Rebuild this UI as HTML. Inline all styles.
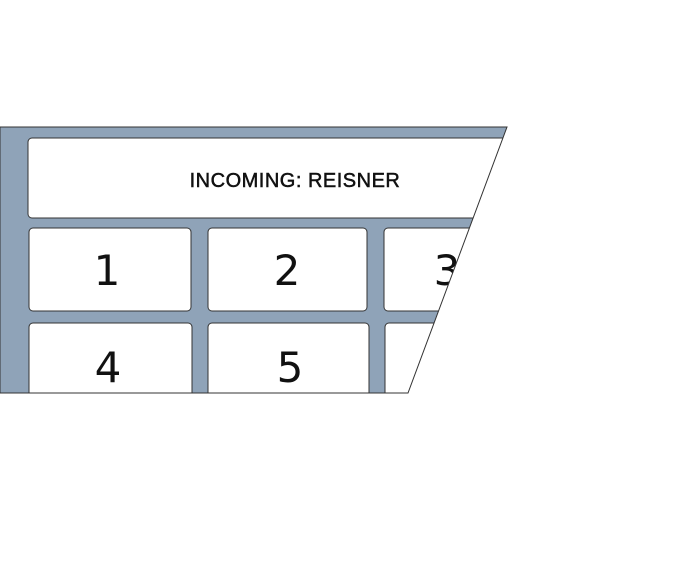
<!DOCTYPE html>
<html><head><style>html,body{margin:0;padding:0;background:#fff;width:700px;height:583px;overflow:hidden}</style></head>
<body>
<svg width="700" height="583" xmlns="http://www.w3.org/2000/svg">
<defs><clipPath id="c"><polygon points="0,127 507,127 408,393 0,393"/></clipPath></defs>
<g clip-path="url(#c)">
<rect x="0" y="127" width="520" height="266" fill="#8fa3b8"/>
<g fill="#fff" stroke="#333" stroke-width="1">
<rect x="28" y="138" width="520" height="80" rx="4"/>
<rect x="29" y="228" width="162" height="83" rx="4"/>
<rect x="208" y="228" width="159" height="83" rx="4"/>
<rect x="384" y="228" width="140" height="83" rx="4"/>
<rect x="29" y="323" width="163" height="90" rx="4"/>
<rect x="208" y="323" width="161" height="90" rx="4"/>
<rect x="385" y="323" width="140" height="90" rx="4"/>
</g>
<g font-family="DejaVu Sans, sans-serif" font-size="42" text-anchor="middle" fill="#111">
<text x="107" y="285">1</text>
<text x="287" y="285">2</text>
<text x="447" y="285">3</text>
<text x="108" y="382">4</text>
<text x="290" y="382">5</text>
</g>
<text x="295" y="187" font-family="Liberation Sans, sans-serif" font-size="20" text-anchor="middle" fill="#111" stroke="#111" stroke-width="0.5" letter-spacing="0.5">INCOMING: REISNER</text>
</g>
<polygon points="0,127 507,127 408,393 0,393" fill="none" stroke="#333" stroke-width="1"/>
</svg>
</body></html>
